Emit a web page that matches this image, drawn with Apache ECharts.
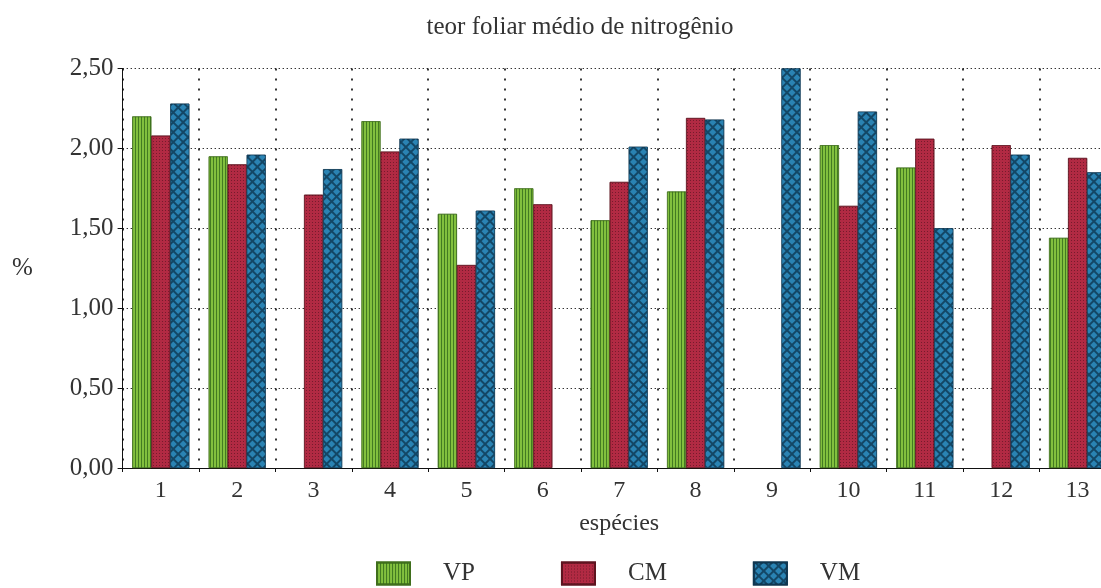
<!DOCTYPE html>
<html>
<head>
<meta charset="utf-8">
<script src="https://cdn.jsdelivr.net/npm/echarts@6/dist/echarts.min.js"></script>
<style>
html,body{margin:0;padding:0;background:#fff;}
#chart{width:1101px;height:588px;}
</style>
</head>
<body>
<div id="chart"></div>
<script>
var categories = ['1','2','3','4','5','6','7','8','9','10','11','12','13'];
var seriesNames = ['VP','CM','VM'];
var vpValues = [2.20, 1.95, null, 2.17, 1.59, 1.75, 1.55, 1.73, null, 2.02, 1.88, null, 1.44];
var cmValues = [2.08, 1.90, 1.71, 1.98, 1.27, 1.65, 1.79, 2.19, null, 1.64, 2.06, 2.02, 1.94];
var vmValues = [2.28, 1.96, 1.87, 2.06, 1.61, null, 2.01, 2.18, 2.50, 2.23, 1.50, 1.96, 1.85];
var yTicks = [0, 0.5, 1.0, 1.5, 2.0, 2.5];

var FONT = 'Liberation Serif';
var TXT = '#333';

var chart = echarts.init(document.getElementById('chart'));

var styles = {
  VP: { color: '#82c03e', borderColor: '#3f6e1c', borderWidth: 0.6,
        decal: { symbol: 'rect', symbolSize: 1, color: 'rgba(45,100,25,0.75)',
                 dashArrayX: [1, 2], dashArrayY: [4, 0], rotation: 0 } },
  CM: { color: '#b12a43', borderColor: '#5e1420', borderWidth: 0.6,
        decal: { symbol: 'rect', symbolSize: 1, color: 'rgba(70,15,25,0.55)',
                 dashArrayX: [1, 2], dashArrayY: [1, 2], rotation: 0 } },
  VM: { color: '#134766', borderColor: '#0f3650', borderWidth: 0.6,
        decal: { symbol: 'rect', symbolSize: 1, color: '#2a83b3',
                 dashArrayX: [5, 1.2], dashArrayY: [5, 1.2], rotation: Math.PI / 4 } }
};

function makeSeries(name, values) {
  return {
    name: name,
    type: 'bar',
    data: values,
    barWidth: 19,
    barGap: '0%',
    itemStyle: styles[name]
  };
}

var option = {
  animation: false,
  backgroundColor: '#ffffff',
  title: {
    text: 'teor foliar médio de nitrogênio',
    left: 575,
    top: 10,
    textAlign: 'center',
    textStyle: { fontFamily: FONT, fontSize: 25, fontWeight: 'normal', color: TXT }
  },
  legend: {
    data: seriesNames,
    icon: 'rect',
    left: 376,
    top: 561,
    padding: 0,
    itemWidth: 33,
    itemHeight: 22,
    itemGap: 86,
    textStyle: { fontFamily: FONT, fontSize: 25, color: TXT, padding: [0, 0, 0, 28] }
  },
  grid: { left: 122.6, top: 68.5, width: 993.2, height: 399.5, containLabel: false, outerBoundsMode: 'none' },
  xAxis: {
    type: 'category',
    data: categories,
    name: 'espécies',
    nameLocation: 'middle',
    nameGap: 44,
    nameTextStyle: { fontFamily: FONT, fontSize: 24, color: TXT },
    axisLine: { show: true, lineStyle: { color: '#111', width: 1 } },
    axisTick: { show: true, length: 4, lineStyle: { color: '#111' } },
    axisLabel: { fontFamily: FONT, fontSize: 24, color: TXT, margin: 11 },
    splitLine: { show: true, lineStyle: { color: '#222', type: [2, 8], width: 1.8 } }
  },
  yAxis: {
    type: 'value',
    min: yTicks[0],
    max: yTicks[yTicks.length - 1],
    interval: 0.5,
    axisLine: { show: true, lineStyle: { color: '#111', width: 1 } },
    axisTick: { show: true, length: 5, lineStyle: { color: '#111' } },
    axisLabel: {
      fontFamily: FONT, fontSize: 25, color: TXT, margin: 9,
      formatter: function (v) { return v.toFixed(2).replace('.', ','); }
    },
    splitLine: { show: true, lineStyle: { color: '#333', type: [1.4, 2.6], width: 1.2 } }
  },
  graphic: [
    { type: 'text', left: 12, top: 256,
      style: { text: '%', font: '25px "Liberation Serif"', fill: TXT } }
  ],
  series: [
    makeSeries('VP', vpValues),
    makeSeries('CM', cmValues),
    makeSeries('VM', vmValues)
  ]
};
chart.setOption(option);
</script>
</body>
</html>
